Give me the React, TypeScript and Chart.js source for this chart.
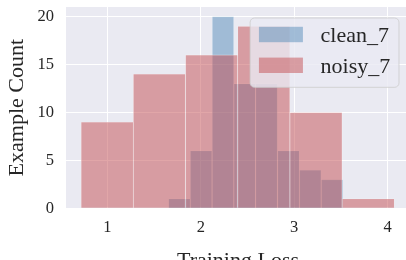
import React, { useEffect, useRef } from "react";
import { Chart, registerables } from "chart.js";

Chart.register(...registerables);

// ---- data ----
const cleanLabel = "clean_7";
const noisyLabel = "noisy_7";
const cleanBinCenters = [1.771, 2.004, 2.238, 2.471, 2.705, 2.939, 3.172, 3.406];
const cleanCounts = [1, 6, 20, 13, 13, 6, 4, 3];
const noisyBinCenters = [0.998, 1.557, 2.116, 2.675, 3.234, 3.793];
const noisyCounts = [9, 14, 16, 19, 10, 1];
const xTicks = [1, 2, 3, 4];
const yTicks = [0, 5, 10, 15, 20];
const xTitle = "Training Loss";
const yTitle = "Example Count";

const FONT = "'Liberation Serif', 'DejaVu Serif', 'Times New Roman', serif";
const TEXT_COLOR = "#262626";
const BG = "#EAEAF2";

const bgPlugin = {
  id: "axesBg",
  beforeDraw(chart: any) {
    const { ctx, chartArea } = chart;
    ctx.save();
    ctx.fillStyle = BG;
    ctx.fillRect(chartArea.left, chartArea.top, chartArea.right - chartArea.left, chartArea.bottom - chartArea.top);
    ctx.restore();
  },
};

const legendPlugin = {
  id: "overlayLegend",
  afterDatasetsDraw(chart: any) {
    const { ctx, chartArea } = chart;
    const fs = 22;
    const pad = 0.4 * fs;
    const handleLen = 2 * fs;
    const handleH = 0.7 * fs;
    const textPad = 0.8 * fs;
    const rowGap = 1.4 * fs;
    const firstRow = 0.75 * fs;
    const bottomPad = 1.0 * fs;
    const items = chart.data.datasets.map((d: any) => ({ label: d.label, color: d.legendColor }));
    ctx.save();
    ctx.font = `${fs}px ${FONT}`;
    const maxW = Math.max(...items.map((it: any) => ctx.measureText(it.label).width));
    const w = pad + handleLen + textPad + maxW + pad;
    const h = firstRow + rowGap * (items.length - 1) + bottomPad;
    const right = chartArea.right - 0.5 * fs;
    const top = chartArea.top + 0.5 * fs;
    const left = right - w;
    const r = 0.2 * fs;
    ctx.beginPath();
    ctx.roundRect(left, top, w, h, r);
    ctx.fillStyle = "rgba(234,234,242,0.8)";
    ctx.fill();
    ctx.strokeStyle = "rgba(204,204,204,0.8)";
    ctx.lineWidth = 1;
    ctx.stroke();
    items.forEach((it: any, i: number) => {
      const cy = top + firstRow + i * rowGap;
      ctx.fillStyle = it.color;
      ctx.fillRect(left + pad, cy - handleH / 2, handleLen, handleH);
      ctx.fillStyle = TEXT_COLOR;
      ctx.textAlign = "left";
      ctx.textBaseline = "alphabetic";
      ctx.fillText(it.label, left + pad + handleLen + textPad, cy + handleH / 2);
    });
    ctx.restore();
  },
};

export default function App() {
  const ref = useRef<HTMLCanvasElement | null>(null);
  useEffect(() => {
    if (!ref.current) return;
    const cleanColor = "rgba(70,130,180,0.45)";
    const noisyColor = "rgba(196,78,82,0.5)";
    const chart = new Chart(ref.current, {
      type: "bar",
      data: {
        datasets: [
          {
            label: cleanLabel,
            data: cleanBinCenters.map((x, i) => ({ x, y: cleanCounts[i] })),
            backgroundColor: cleanColor,
            legendColor: cleanColor,
            borderColor: "rgba(255,255,255,0.45)",
            borderWidth: 0.6,
            xAxisID: "x",
            order: 2,
            grouped: false,
            barPercentage: 1,
            categoryPercentage: 1,
          } as any,
          {
            label: noisyLabel,
            data: noisyBinCenters.map((x, i) => ({ x, y: noisyCounts[i] })),
            backgroundColor: noisyColor,
            legendColor: noisyColor,
            borderColor: "rgba(255,255,255,0.45)",
            borderWidth: 0.6,
            xAxisID: "x2",
            order: 1,
            grouped: false,
            barPercentage: 1,
            categoryPercentage: 1,
          } as any,
        ],
      },
      options: {
        animation: false,
        responsive: false,
        devicePixelRatio: 1,
        layout: { padding: { top: 7, left: 0, right: 0, bottom: 0 } },
        plugins: { legend: { display: false }, tooltip: { enabled: false } },
        scales: {
          x: {
            type: "linear",
            min: 0.5575,
            max: 4.24,
            offset: false,
            afterBuildTicks: (s: any) => { s.ticks = xTicks.map((v) => ({ value: v })); },
            afterFit: (s: any) => { s.height = 274 - 208.3; s.paddingLeft = 0; s.paddingRight = 0; },
            grid: { color: "#ffffff", lineWidth: 1, drawTicks: false, offset: false },
            border: { display: false },
            ticks: { color: TEXT_COLOR, font: { family: FONT, size: 16.5 }, padding: 9.5, maxRotation: 0 },
            title: { display: true, text: xTitle, color: TEXT_COLOR, font: { family: FONT, size: 22 }, padding: { top: 0, bottom: 0 } },
          },
          x2: {
            type: "linear",
            display: false,
            min: 0.5575,
            max: 4.24,
            offset: false,
            afterBuildTicks: (s: any) => { s.ticks = xTicks.map((v) => ({ value: v })); },
          },
          y: {
            type: "linear",
            min: 0,
            max: 21,
            afterBuildTicks: (s: any) => { s.ticks = yTicks.map((v) => ({ value: v })); },
            afterFit: (s: any) => { s.width = 66; s.paddingTop = 0; s.paddingBottom = 0; },
            grid: { color: "#ffffff", lineWidth: 1, drawTicks: false },
            border: { display: false },
            ticks: { color: TEXT_COLOR, font: { family: FONT, size: 16.5 }, padding: 12 },
            title: { display: true, text: yTitle, color: TEXT_COLOR, font: { family: FONT, size: 22 }, padding: { top: 4, bottom: 0 } },
          },
        },
      } as any,
      plugins: [bgPlugin, legendPlugin],
    });
    return () => chart.destroy();
  }, []);
  return (
    <div style={{ position: "fixed", left: 0, top: 0, width: 406, height: 260, overflow: "hidden", background: "#ffffff" }}>
      <canvas ref={ref} width={410} height={274} style={{ width: 410, height: 274, display: "block" }} />
    </div>
  );
}
